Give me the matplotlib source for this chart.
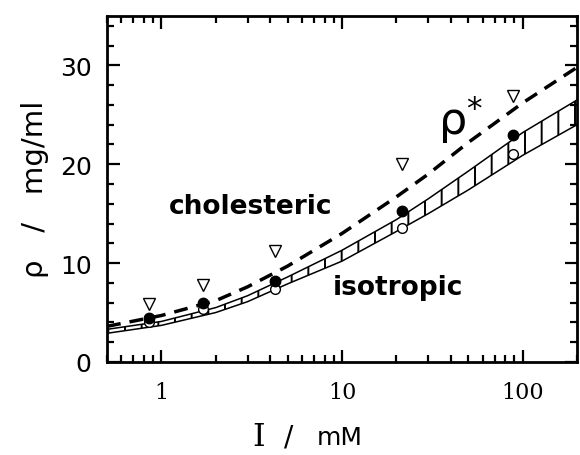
import numpy as np
import matplotlib.pyplot as plt
from matplotlib.ticker import AutoMinorLocator, FixedLocator, LogLocator, NullFormatter

# puntos experimentales
I_pts = [0.85, 1.7, 4.25, 21.5, 88]
rho_tri = [5.9, 7.8, 11.2, 20.0, 26.9]
rho_filled = [4.4, 6.0, 8.2, 15.3, 23.0]
rho_open = [4.0, 5.4, 7.4, 13.5, 21.0]

# curvas teoricas
I_curve = [0.5, 1, 2, 3, 5, 10, 20, 30, 50, 100, 200]
rho_upper = [3.3, 4.1, 5.5, 6.7, 8.6, 11.3, 14.4, 16.5, 19.3, 23.2, 26.5]
rho_lower = [2.9, 3.7, 5.0, 6.1, 7.9, 10.2, 13.2, 15.0, 17.4, 20.9, 24.0]
rho_star = [3.6, 4.7, 6.2, 7.6, 9.7, 13.0, 16.7, 19.0, 22.2, 26.2, 29.8]

x_ticks = [1, 10, 100]
y_ticks = [0, 10, 20, 30]

plt.rcParams['hatch.linewidth'] = 1.4
fig = plt.figure(figsize=(5.8, 4.56), dpi=100)
ax = fig.add_axes([0.1845, 0.204, 0.8105, 0.759])

# banda rayada entre las dos curvas
ax.fill_between(I_curve, rho_lower, rho_upper, facecolor='white',
                edgecolor='black', hatch='|', linewidth=0)
ax.plot(I_curve, rho_upper, color='black', lw=1.1)
ax.plot(I_curve, rho_lower, color='black', lw=1.1)
ax.plot(I_curve, rho_star, color='black', lw=2.5, ls=(0, (4, 2.6)))

ax.plot(I_pts, rho_tri, linestyle='none', marker='v', ms=8, mfc='white',
        mec='black', mew=1.0)
ax.plot(I_pts, rho_open, linestyle='none', marker='o', ms=7, mfc='white',
        mec='black', mew=1.0)
ax.plot(I_pts, rho_filled, linestyle='none', marker='o', ms=7.5, color='black')

ax.set_xscale('log')
ax.set_xlim(0.5, 200)
ax.set_ylim(0, 35)
ax.xaxis.set_major_locator(FixedLocator(x_ticks))
ax.xaxis.set_minor_locator(LogLocator(base=10, subs=np.arange(2, 10)))
ax.xaxis.set_minor_formatter(NullFormatter())
ax.set_xticklabels([str(t) for t in x_ticks], family='DejaVu Serif', fontsize=16)
ax.set_yticks(y_ticks)
ax.set_yticklabels([str(t) for t in y_ticks], fontsize=18)
ax.yaxis.set_minor_locator(AutoMinorLocator(5))

ax.tick_params(which='both', direction='in', top=True, right=True, width=1.6)
ax.tick_params(which='major', length=9)
ax.tick_params(which='minor', length=5)
ax.tick_params(axis='x', pad=14)
ax.tick_params(axis='y', pad=11)
for s in ax.spines.values():
    s.set_linewidth(2)

ax.text(1.1, 15.8, 'cholesteric', fontsize=19, fontweight='bold',
        ha='left', va='center')
ax.text(8.9, 7.6, 'isotropic', fontsize=19, fontweight='bold',
        ha='left', va='center')
ax.text(34, 24.6, 'ρ$^{*}$', fontsize=32, ha='left', va='center')

# etiquetas de los ejes
fig.text(0.06, 0.585, 'ρ   /   mg/ml', rotation=90, ha='center', va='center',
         fontsize=21)
fig.text(0.445, 0.04, 'I', family='DejaVu Serif', fontsize=23, ha='center', va='center')
fig.text(0.497, 0.04, '/', fontsize=20, ha='center', va='center')
fig.text(0.585, 0.04, 'mM', fontsize=18, ha='center', va='center')

fig.savefig('out.png', dpi=100)
